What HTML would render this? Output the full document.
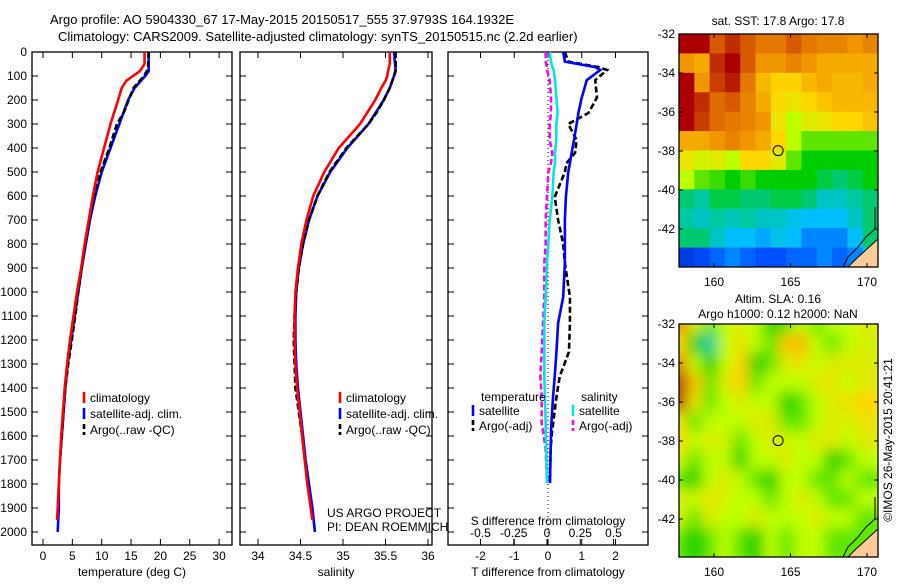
<!DOCTYPE html>
<html><head><meta charset="utf-8"><style>
body{margin:0;background:#fff;font-family:"Liberation Sans",sans-serif;}
svg text{font-family:"Liberation Sans",sans-serif;font-size:12px;fill:#000}
</style></head><body>
<svg id="chart" width="900" height="580" viewBox="0 0 900 580" xmlns="http://www.w3.org/2000/svg">
<text x="50" y="24" style="font-size:13px">Argo profile: AO 5904330_67 17-May-2015 20150517_555 37.9793S 164.1932E</text>
<text x="58" y="41" style="font-size:13px">Climatology: CARS2009. Satellite-adjusted climatology: synTS_20150515.nc (2.2d earlier)</text>
<g id="g"></g>
</svg>
<script>
// ---- data ----
const tDepth=[0,50,80,100,120,150,200,300,400,500,600,700,800,900,1000,1100,1200,1300,1400,1500,1600,1700,1800,1900,1950];
const tClim=[17.3,17.3,16.5,15.3,14.2,13.4,12.8,11.5,10.4,9.3,8.5,7.8,7.1,6.5,5.8,5.2,4.6,4.1,3.7,3.4,3.1,2.9,2.7,2.5,2.4];
const satDepth=[0,80,100,150,200,300,400,500,600,700,800,900,1000,1100,1200,1300,1400,1500,1600,1700,1800,1900,2000];
const tSat=[18.0,18.0,17.4,15.6,14.5,13.0,11.5,10.0,8.9,8.0,7.3,6.6,6.0,5.4,4.8,4.2,3.8,3.5,3.2,2.9,2.7,2.7,2.5];
const argoDepth=[0,70,100,150,200,250,300,400,500,600,700,800,900,1000,1100,1200,1300,1400,1500,1600,1700];
const tArgo=[18.0,17.9,17.2,15.4,14.6,13.8,12.6,11.3,9.8,8.7,7.9,7.2,6.6,6.0,5.5,4.9,4.3,3.8,3.5,3.2,2.9];
const sClim=[35.55,35.55,35.53,35.52,35.5,35.45,35.38,35.2,34.95,34.78,34.65,34.57,34.51,34.47,34.44,34.43,34.43,34.44,34.46,34.49,34.52,34.55,34.58,34.62,34.64];
const sSat=[35.6,35.62,35.6,35.55,35.48,35.3,35.05,34.85,34.7,34.6,34.53,34.48,34.45,34.44,34.44,34.45,34.47,34.5,34.53,34.56,34.6,34.64,34.67];
const sArgo=[35.62,35.62,35.6,35.55,35.48,35.4,35.3,35.04,34.84,34.7,34.6,34.53,34.48,34.45,34.43,34.42,34.43,34.44,34.48,34.52,34.55];
const dDepth=[0,40,63,75,117,190,254,300,367,420,463,500,604,700,800,879,1021,1129,1250,1350,1437,1550,1579,1650,1796];
const dTsat=[0.45,0.5,1.4,1.55,1.15,1.0,0.9,0.85,0.77,0.7,0.65,0.6,0.53,0.5,0.5,0.5,0.45,0.3,0.25,0.2,0.15,0.1,0.09,0.08,0.06];
const dTargo=[0.5,0.6,1.5,1.75,1.4,1.45,1.2,0.6,0.85,0.8,0.55,0.5,0.2,0.3,0.45,0.5,0.65,0.65,0.62,0.35,0.25,0.15,0.12,0.08,0.05];
const dSsat=[0.02,0.03,0.04,0.05,0.06,0.07,0.08,0.07,0.07,0.06,0.06,0.05,0.04,0.02,0.01,0.0,-0.01,-0.02,-0.02,-0.02,-0.015,-0.01,-0.01,-0.005,0.0];
const dSargo=[-0.01,-0.01,0.0,0.0,0.02,0.03,0.03,0.02,0.02,0.04,0.03,0.01,0.0,-0.01,-0.01,-0.02,-0.02,-0.03,-0.04,-0.05,-0.04,-0.04,-0.03,-0.01,0.0];
const depthTicks=[0,100,200,300,400,500,600,700,800,900,1000,1100,1200,1300,1400,1500,1600,1700,1800,1900,2000];
const tTicks=[0,5,10,15,20,25,30];
const sTicks=[34,34.5,35,35.5,36];
const dTticks=[-2,-1,0,1,2];
const dSticks=[-0.5,-0.25,0,0.25,0.5];
const latTicks=[-32,-34,-36,-38,-40,-42];
const lonTicks=[160,165,170];
const sstGrid=[
[.95,.95,.85,.9,.85,.8,.8,.85,.8,.78,.78,.75,.78],
[.75,.72,.9,.95,.85,.75,.75,.78,.75,.72,.72,.72,.72],
[.95,.75,.88,.92,.8,.7,.66,.66,.7,.72,.7,.7,.72],
[.95,.9,.82,.85,.78,.72,.64,.62,.65,.68,.7,.7,.7],
[.95,.88,.82,.8,.78,.75,.62,.55,.6,.62,.65,.65,.68],
[.72,.72,.75,.78,.75,.72,.65,.55,.5,.5,.5,.5,.5],
[.62,.58,.6,.55,.65,.65,.6,.5,.45,.45,.45,.45,.45],
[.55,.5,.48,.45,.48,.45,.45,.45,.45,.42,.4,.42,.45],
[.4,.38,.42,.42,.4,.4,.42,.42,.4,.35,.35,.38,.4],
[.38,.35,.38,.36,.38,.35,.35,.32,.3,.3,.3,.35,.4],
[.4,.4,.35,.3,.3,.28,.32,.3,.25,.25,.25,.3,.4],
[.15,.18,.22,.25,.22,.2,.2,.22,.22,.25,.22,.25,.3]];
const slaGrid=[
[.8,.6,.5,.55,.6,.55,.45,.5,.55,.5,.55,.55,.6],
[.65,.45,.38,.55,.62,.55,.5,.68,.7,.55,.5,.55,.58],
[.8,.55,.45,.55,.65,.45,.5,.6,.62,.55,.6,.6,.6],
[1.0,.68,.5,.6,.66,.5,.55,.55,.55,.6,.62,.55,.6],
[.98,.62,.5,.55,.6,.55,.55,.45,.5,.55,.6,.62,.65],
[.62,.5,.55,.55,.55,.6,.6,.5,.5,.55,.6,.58,.62],
[.66,.55,.6,.58,.5,.55,.6,.58,.55,.6,.6,.55,.6],
[.58,.5,.55,.55,.45,.55,.55,.6,.55,.55,.45,.5,.55],
[.5,.45,.55,.6,.55,.5,.45,.55,.55,.5,.5,.55,.5],
[.6,.55,.62,.58,.55,.55,.5,.55,.6,.55,.5,.5,.55],
[.58,.5,.6,.55,.55,.6,.55,.55,.55,.6,.55,.55,.5],
[.5,.45,.5,.55,.5,.45,.55,.5,.55,.55,.5,.5,.5]];
const argoLon=164.19, argoLat=-37.98;
// ---- helpers ----
const NS="http://www.w3.org/2000/svg";
const G=document.getElementById('g');
function mk(tag,at,parent){const e=document.createElementNS(NS,tag);for(const k in at)e.setAttribute(k,at[k]);(parent||G).appendChild(e);return e;}
const yD=d=>52+d*0.24;
function frame(x0,x1,name){const r=mk('rect',{x:x0,y:52,width:x1-x0,height:493,fill:'none',stroke:'#000','stroke-width':1.3});

}
function line(xs,ds,xf,col,dash,name){const p=mk('polyline',{points:xs.map((v,i)=>xf(v)+','+yD(ds[i])).join(' '),fill:'none',stroke:col,'stroke-width':2.6,'stroke-dasharray':dash||'none'});

}
function xTicks(ticks,xf,y,fmt){ticks.forEach(t=>{const x=xf(t);mk('line',{x1:x,x2:x,y1:545,y2:539,stroke:'#000'});mk('line',{x1:x,x2:x,y1:52,y2:58,stroke:'#000'});
const tx=mk('text',{x:x,y:y,'text-anchor':'middle'});tx.textContent=fmt?fmt(t):t;

});}
function label(x,y,s,name,anchor){const t=mk('text',{x:x,y:y,'text-anchor':anchor||'middle'});t.textContent=s;

return t;}
function legend(x,y,col,dash,s){mk('line',{x1:x,x2:x,y1:y-10,y2:y+1,stroke:col,'stroke-width':2.6,'stroke-dasharray':dash||'none'});
label(x+6,y,s,'legend-entry','start');}
// ---- panel 1: temperature ----
const xT=v=>43+v*5.87;
frame(32,232,'temperature-plot-frame');
depthTicks.forEach(d=>{mk('line',{x1:32,x2:38,y1:yD(d),y2:yD(d),stroke:'#000'});mk('line',{x1:226,x2:232,y1:yD(d),y2:yD(d),stroke:'#000'});
label(27,yD(d)+4,d,'y-tick-label','end');});
xTicks(tTicks,xT,560);
label(132,576,'temperature (deg C)','x-axis-title');
line(tSat,satDepth,xT,'#0000ff',null,'temp-satellite-line');
line(tArgo,argoDepth,xT,'#000',"6,3",'temp-argo-line');
line(tClim,tDepth,xT,'#ff0000',null,'temp-climatology-line');
legend(84,402,'#f00',null,'climatology');
legend(84,418,'#00f',null,'satellite-adj. clim.');
legend(84,434,'#000','5,3','Argo(..raw -QC)');
// ---- panel 2: salinity ----
const xS=v=>258+(v-34)*85;
frame(240,432,'salinity-plot-frame');
depthTicks.forEach(d=>{mk('line',{x1:240,x2:246,y1:yD(d),y2:yD(d),stroke:'#000'});mk('line',{x1:426,x2:432,y1:yD(d),y2:yD(d),stroke:'#000'});});
xTicks(sTicks,xS,560);
label(336,576,'salinity','x-axis-title');
line(sSat,satDepth,xS,'#0000ff',null,'sal-satellite-line');
line(sArgo,argoDepth,xS,'#000',"6,3",'sal-argo-line');
line(sClim,tDepth,xS,'#ff0000',null,'sal-climatology-line');
legend(340,402,'#f00',null,'climatology');
legend(340,418,'#00f',null,'satellite-adj. clim.');
legend(340,434,'#000','5,3','Argo(..raw -QC)');
label(327,517,'US ARGO PROJECT','project-label','start');
label(327,531,'PI: DEAN ROEMMICH','pi-label','start');
// ---- panel 3: differences ----
const xDT=v=>548+v*33.75, xDS=v=>547+v*133;
frame(448,648,'difference-plot-frame');
depthTicks.forEach(d=>{mk('line',{x1:448,x2:454,y1:yD(d),y2:yD(d),stroke:'#000'});mk('line',{x1:642,x2:648,y1:yD(d),y2:yD(d),stroke:'#000'});});
mk('line',{x1:548,x2:548,y1:52,y2:545,stroke:'#000','stroke-dasharray':'1,3'});
xTicks(dTticks,xDT,560);
dSticks.forEach(t=>{const x=xDS(t);mk('line',{x1:x,x2:x,y1:539,y2:545,stroke:'#000'});label(x,537,t,'s-tick-label');});
label(548,525,'S difference from climatology','s-axis-title');
label(548,576,'T difference from climatology','t-axis-title');
line(dTargo,dDepth,xDT,'#000',"6,3",'tdiff-argo-line');
line(dTsat,dDepth,xDT,'#0000ff',null,'tdiff-satellite-line');
line(dSargo,dDepth,xDS,'#ff00ff',"6,3",'sdiff-argo-line');
line(dSsat,dDepth,xDS,'#00e5e5',null,'sdiff-satellite-line');
label(481,401,'temperature','legend-title-temperature','start');
legend(473,415,'#00f',null,'satellite');
legend(473,430,'#000','5,3','Argo(-adj)');
label(581,401,'salinity','legend-title-salinity','start');
legend(573,415,'#00e5e5',null,'satellite');
legend(573,430,'#f0f','5,3','Argo(-adj)');
// ---- maps ----
const cmapStops=[[0,[0,0,140]],[0.2,[0,80,255]],[0.3,[0,190,255]],[0.38,[0,200,160]],[0.45,[0,205,0]],[0.55,[190,255,0]],[0.65,[255,215,0]],[0.75,[240,150,0]],[0.85,[215,90,0]],[0.95,[170,0,0]],[1,[160,0,0]]];
function cmap(v){for(let i=1;i<cmapStops.length;i++){if(v<=cmapStops[i][0]){const a=cmapStops[i-1],b=cmapStops[i],f=(v-a[0])/(b[0]-a[0]);const c=a[1].map((x,k)=>Math.round(x+(b[1][k]-x)*f));return `rgb(${c[0]},${c[1]},${c[2]})`;}}return 'rgb(160,0,0)';}
function map(y0,grid,name,blur){const x0=679,x1=878,y1=y0+233;
const lonX=l=>714+(l-160)*15.3, latY=la=>y0+(-32-la)*19.5;
const cid='clip'+y0;const cp=mk('clipPath',{id:cid});mk('rect',{x:x0,y:y0,width:x1-x0,height:y1-y0},cp);
const g=mk('g',{'clip-path':`url(#${cid})`});


const gi=mk('g',blur?{filter:'url(#blur)'}:{},g);
const cw=(x1-x0)/13, ch=(y1-y0)/12;
grid.forEach((row,r)=>row.forEach((v,c)=>{const cell=mk('rect',{x:x0+c*cw-(blur?cw*0.5:0),y:y0+r*ch-(blur?ch*0.5:0),width:cw+(blur?cw:0)+0.5,height:ch+(blur?ch:0)+0.5,fill:cmap(v)},gi);

}));
mk('polygon',{points:`${x1},${y1-28} ${x1-22},${y1-8} ${x1-30},${y1} ${x1},${y1}`,fill:'#ffcc99',stroke:'#000','stroke-width':1},g);
mk('polyline',{points:`${x1-3},${y1-60} ${x1-3},${y1-38} ${x1-12},${y1-30} ${x1-20},${y1-20} ${x1-30},${y1-10} ${x1-35},${y1}`,fill:'none',stroke:'#000'},g);
mk('rect',{x:x0,y:y0,width:x1-x0,height:y1-y0,fill:'none',stroke:'#000','stroke-width':1.3});
latTicks.forEach(la=>{const y=latY(la);mk('line',{x1:x0,x2:x0+4,y1:y,y2:y,stroke:'#000'});mk('line',{x1:x1-4,x2:x1,y1:y,y2:y,stroke:'#000'});label(x0-4,y+4,la,'lat-tick-label','end');});
lonTicks.forEach(lo=>{const x=lonX(lo);mk('line',{x1:x,x2:x,y1:y0,y2:y0+4,stroke:'#000'});mk('line',{x1:x,x2:x,y1:y1-4,y2:y1,stroke:'#000'});label(x,y1+19,lo,'lon-tick-label');});
const m=mk('circle',{cx:lonX(argoLon),cy:latY(argoLat),r:5,fill:'none',stroke:'#000','stroke-width':1});

}
const df=mk('defs',{});const f=mk('filter',{id:'blur',x:'-10%',y:'-10%',width:'120%',height:'120%'},df);mk('feGaussianBlur',{stdDeviation:7},f);
label(778,25,'sat. SST: 17.8 Argo: 17.8','sst-map-title');
map(34,sstGrid,'sst-map',false);
label(778,303,'Altim. SLA: 0.16','sla-map-title');
label(778,318,'Argo h1000: 0.12 h2000: NaN','sla-map-subtitle');
map(324,slaGrid,'sla-map',true);
const cr=label(0,0,'©IMOS 26-May-2015 20:41:21','copyright-label','middle');cr.setAttribute('transform','translate(892,440) rotate(-90)');
</script>
</body></html>
